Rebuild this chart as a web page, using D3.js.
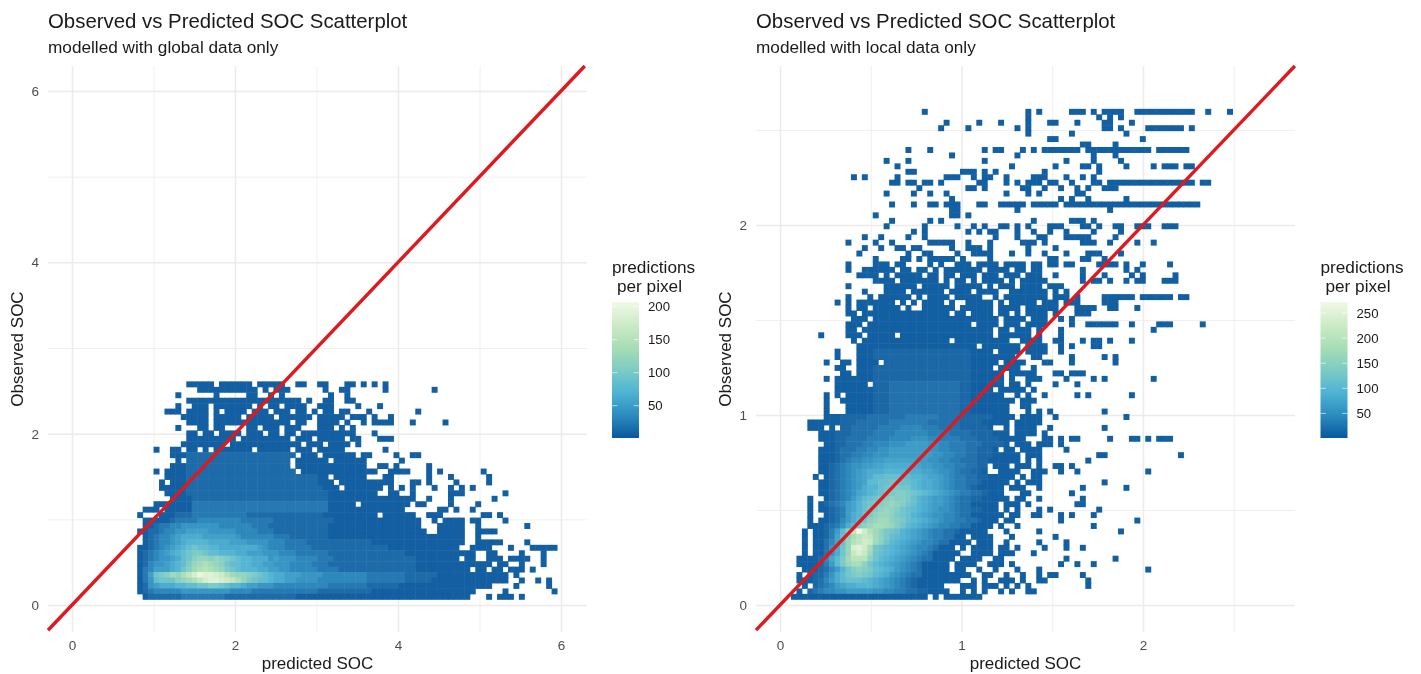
<!DOCTYPE html>
<html>
<head>
<meta charset="utf-8">
<script src="https://cdn.jsdelivr.net/npm/d3@7"></script>
<style>
html, body { margin: 0; background: #fff; }
svg { filter: blur(0.35px); }
svg text { font-family: "Liberation Sans", Arial, sans-serif; }
</style>
</head>
<body>
<div id="chart"></div>
<script>
// one string per row of bins, top row first
// "a-b" = run of bins at the lowest count, "a-b*3" = run at level 3, "a:0123" = levels from column a
// level n = n*10 predictions (base 36), "." = empty bin
const globalRows = [
  "9-13 15-20 22-26 29-30 33-34 38-39 41 43 45",
  "11-21 23 25-27 34 37-38 45 54",
  "7 14 20-21 24 26 35 38",
  "9-29 31 34-35 38-39",
  "7 10-12 14-20 22 24-25 27-30 33-35 40 44",
  "5-7 9-12 14 16-19 21-23 25-27 29-30 32 34-35 37-38 42 51",
  "8-12 14-18 20-24 26-31 33-37 39-41 43 46",
  "9-12 14-27 29-30 33-36 38 41 43-46 50 56",
  "7 11-12 14-15 20-21 23-25 27-29 33-35 37 39",
  "9-10 12-13 15-18 20-22 24-25 27-28 30-39 43",
  "9-17 19-27 29-31 33-37 39-40 44-46",
  "8-15 17-29 31-33 35-38 40",
  "3 6-7 9-10 12 14-20 22-27 29-31 33-37 45",
  "6-8 9-28*1 30-32 34-39 41-42 47 50-51",
  "7 9-27*1 29-34 36-41 48",
  "6-8 9-27*1 29-41 44-45 47 53",
  "3 5-8 9-28*1 30-43 46-49 53 55 63",
  "5-8 9-32*1 33-34 36-41 45-46 53 57 64",
  "4 6-8 9-32*1 33-35 37-45 46 50-51 53 58 64",
  "4-8 9-33*1 34-36 38-44 46 48 50 54 57 59 61",
  "5-8 9-34*1 35-43 46-47 50 57-59 67",
  "6-9 10-34*1 35-50 53 57 65",
  "3-9 10-34*2 35-39 41-48 49 51-52 57 62",
  "1-3 5-9 10-34*2 35-48 55-56 58 61",
  "0 4 5:00111222222222211111111111111000000 40-43 45-50 53-55 63-64 66",
  "1-4 5:0122223333333322222211111111111000 39-51 54 56-59 61-62 67",
  "1:001223344444443333332221111111111100 37-51 55-59 62 71",
  "0:00112334455554444433332221111111111 35-52 55-59 62-65",
  "1:0123345666655555543333332221111111 35-59 62",
  "1:01233456777766665554444333222211111 36-42*1 43-59 62-66 71",
  "0:001234567898877666666654333222221111 36-45*1 46-58 61-64 68 72-76",
  "0:0123456789aa98877766555444333222222111 38-48*1 49-61 64-65 70 74",
  "0:012344568 9:9bccbcba987766645444333322211 38-50*1 51-58 60-61 64-66 68-71 74",
  "0:0134456 7:78acdedcb98877665544433332221 36-50*1 51-64 66-67 70 74",
  "0:023555679bdefedca98777665544333332222 37-50*1 51-60 62-63 65-66 68-70 72",
  "0:0259abdcegikjjihfdccba98766555444433333333222 45:2222111111 55-67 69",
  "0:0248999bcdegijjihgeca98876655444433333333322222 45:222211111 54-67 70 73 75",
  "0:0145666778899aa987765544433333333332222222 42:111111 48-64 69 75",
  "0:0123333344444444433332222222222221111111111 43-61 67 76",
  "1:0111111222222221111111111111000000 35-60 64 66-68 70"
];

const localRows = [
  "24 43 45 51-53 55 57-60 63-73 76 80",
  "43 56 58 60",
  "28 34 38 43 47-48 52 57-58 62",
  "27 32 41 43 57-58 60 65-71 73",
  "43 51 61",
  "47-48 64",
  "53-54 59",
  "21 25 35 37-38 42 44 46-52 54-65 67-72",
  "29 41 55 59",
  "17 21 35 50 55 60",
  "19 40 48 53-54 56 61 66 68-70 72-73",
  "21-22 31-33 35 37 46 56",
  "11 13 19 28-30 33 35-36 39 44-46 50 53 55",
  "18-19 21-22 24-25 27 34-35 39 41 43-45 47-48 51 55-56 58-73 75-76",
  "23 32-33 35 42-43 46 49 52 54 57-59",
  "17 22 25 28 39 43 45 52-53",
  "29 49 51 54 61",
  "18 22 25-26 28-30 34-35 38-42 44-48 50-74",
  "29-30 41 58",
  "15 29-30 32",
  "18 25 27 44 51-53 55",
  "17 24 30 33 35 38-39 41 43 47-49 53-54 56 59-60 63-65 68-70",
  "22 24 32 34 36-37 41 44 47 50 55 60",
  "13 16 21 24 37 41 45-46 50-54 59",
  "10 15 18 25-29 32 36 42-44 46 53-55 58 63 66",
  "13 16 19-20 22-23 29 32-34 36 43 48",
  "12 21 24-25 30 33-36 40 43 46 50 54-56 60",
  "15 20-21 23 25-29 31 36 47-48 53-54 57",
  "10 15-17 19-20 25 27 30-32 34-37 39-42 44-45 47-48 50-51 56-59 61 64 69",
  "10 13-18 20-21 23-24 26 28-34 36-39 41-42 44-45 53 61 63",
  "12-15 17 19-23 25-26 28-29 31-33 35-37 39-41 43-45 48 53 57 62 64 70",
  "15-18 20-26 28 30-31 33 35-38 40 42-46 53 55-56 58 61 63-64 68-70",
  "10 17-22 24-28 30-34 36 38-40 42-45 47-49",
  "13 17-20 22-27 29-32 34-37 40-46 48 50",
  "10 14 16-21 23 25-28 30-34 37 39-46 48-50 52 57-62 64-69 71-72",
  "8 10 12-18 20 22 24-27 29 32-36 38 40-44 46-48 50-52 57-59",
  "10 12-13 15-19 21 24-29 31-36 38-41 43-48 52-55 58-59 63",
  "10-11 13-28 30-31 33-36 38-39 41 43-46 48 52-54",
  "11-13 15-37 39-42 44-46 49 51",
  "10-12 14-32 34-37 39-41 43-46 51 54-59 62 67-69 75",
  "10-11 13-36 38-39 41-43 45 49 66",
  "5 10-12 14-18 20-36 38-43 45 49",
  "11 13-28 30-39 42-45 48-49 53 55-56 58 62",
  "12-33 35-41 43-46 49 51 55-56",
  "8 12-14 15-32*1 33-36 38-41 43-46 49",
  "8 12-14 15-32*1 33-40 44-45 51 57 59",
  "6 9-10 12-15 17-32*1 33-37 39-42 46-47 51 59",
  "8-9 12-14 15-32*1 33-36 38-41 44",
  "9-10 12-14 15-32*1 33-38 40-44 48-49 51-53",
  "6 8-14 15-32*1 33-38 40 43-45 50 55 57 66",
  "8-13 15-32*1 18-30*2 33-38 40-41 43 48 52",
  "8-14 15-32*1 18-30*2 33-36 38-42 44",
  "6 8 10-14 15-32*1 18-30*2 33-38 41 43 46 52 54 62",
  "6 9-14 15-32*1 18-30*2 33-40 42-44",
  "6 10-14 15-32*1 18-30*2 33-39 42-43",
  "6 10-14 15-32*1 18-30*2 33-39 43 45 47 57",
  "6:00011111222222233333322221111110000 42-45 48 61",
  "3-6 7:0011122222233333332222221111000 38-39 41-45",
  "3-5 7 8:.1122222333344443332222111110 39 41-44 47 57",
  "5:0001112222333344444433332222111100 39 41-44 46",
  "5:00011222233334444555443333222111100 40-42 46-47 49 51-52 58 62-63 65 67-69",
  "5:.0011222334445556666554433322211110 41-43 45-47 49",
  "5:00012223344556666666554433322111 37 39-40 42-45 50",
  "5:00012233445556666666655443322111 37-41 43-45 56-57 71",
  "5:0001234455667777776655443322211 36-41 43 45 54",
  "4:.0012345566778888877665544332211 37-39 41-43 45 48-49 51",
  "5:0012345678889999888776554322110 38-41 44-46 49 52 65",
  "4:0.012345678aabbbaa99877654332211 36-40 42 44-45",
  "5:001234567aabbccbba988765433221 35-39 41 43-45 57",
  "5:00123456899bcddcca98876543321 34-38 40-42 45 53 61",
  "5:0012345789abcdeedcba98765433221 36-38 42-43 51",
  "3 5:.0123468abcdefeedb987665432211 35-39 41-42 45 53",
  "3 4:.01234679bcdefgfecb9876654322 33-37 39-41 43 52-53",
  "3 5:00123679bdefgfecba987655432211 35-37 39 41 45 47 56",
  "3 6:0123689bdfggfdcb98765544322 33-38 40-41 44-45 49 51 55",
  "3 5:0012468acfghhfedba987654433221 35-37 39-40 49 63",
  "3 4:0012358adfgiihgeca98765443322 33-36 38 41 55",
  "2 4:00136aflrnjhfdcb98765433221 31-35 39 45 60",
  "2 4:00137bfikmlhfdba9876543322 30-31 33-36 40 48",
  "2 4:00247bgjlnmhfca9876544322 29-32 34-36 39 45 50",
  "2 4:00258cgopnicba987654432 27-29 31 33-36 38-39 41 46 50 53",
  "2 4:00258cgmomhcba98765432 26-30 33-36 38-40 44",
  "1-2 3:00147adhkkkfca987654322 26-29 31-34 37-38 50 59",
  "1-2 3:00136adgiifca98765432 24-28 30-33 36-38 40 49 52 55",
  "2 3:0012469cefedba9865432 24-28 30-31 34 37 41 45 65",
  "1 3:011358acdedca98654322 24-32 35-36 39 42 45 47-48 53",
  "1-2 3:012468abbba987654321 23-30 33 35 38-40 42 45-46 54",
  "2 4:1234678899987654321 23-27 31-33 35-37 39 41 43 54",
  "1:0.12344556666655443322110000 31 33 35 38 40 43-44",
  "0-24 26 28-34"
];

const ramp = ["#08589E", "#2B8CBE", "#4EB3D3", "#7BCCC4", "#A8DDB5", "#CCEBC5", "#F0F9E8"];
const titleText = "Observed vs Predicted SOC Scatterplot";
const globalTicks = [0, 2, 4, 6];
const globalMinor = [1, 3, 5];
const localTicks = [0, 1, 2];
const localMinorX = [0.5, 1.5, 2.5];
const localMinorY = [0.5, 1.5, 2.5];

const svg = d3.select("#chart").append("svg")
    .attr("width", 1421)
    .attr("height", 674)
    .style("display", "block");

function parseRows(rows) {
    const cells = new Map();
    rows.forEach((line, row) => {
        line.split(" ").forEach(tok => {
            if (tok.includes(":")) {
                const [start, levels] = tok.split(":");
                levels.split("").forEach((ch, i) => {
                    if (ch !== ".") cells.set(row + "_" + (+start + i), { col: +start + i, row: row, level: parseInt(ch, 36) });
                });
            } else {
                const [span, lev] = tok.split("*");
                const [a, b] = span.split("-");
                for (let c = +a; c <= +(b === undefined ? a : b); c++) {
                    cells.set(row + "_" + c, { col: c, row: row, level: lev === undefined ? 0 : parseInt(lev, 36) });
                }
            }
        });
    });
    return Array.from(cells.values());
}

function drawPanel(p) {
    const x = d3.scaleLinear().domain(p.xDomain).range(p.xRange);
    const y = d3.scaleLinear().domain(p.yDomain).range(p.yRange);
    const g = svg.append("g");
    const w = p.xRange[1] - p.xRange[0];
    const h = p.yRange[0] - p.yRange[1];

    // grid
    g.append("g").attr("transform", `translate(0,${p.yRange[0]})`)
        .call(d3.axisBottom(x).tickValues(p.minorX).tickSize(-h).tickFormat(""))
        .call(s => s.selectAll("line").attr("stroke", "#eeeeee").attr("stroke-width", 0.9))
        .call(s => s.select(".domain").remove());
    g.append("g").attr("transform", `translate(${p.xRange[0]},0)`)
        .call(d3.axisLeft(y).tickValues(p.minorY).tickSize(-w).tickFormat(""))
        .call(s => s.selectAll("line").attr("stroke", "#eeeeee").attr("stroke-width", 0.9))
        .call(s => s.select(".domain").remove());
    const xAxis = g.append("g").attr("transform", `translate(0,${p.yRange[0]})`)
        .call(d3.axisBottom(x).tickValues(p.ticks).tickSize(-h).tickPadding(8).tickFormat(d3.format("d")));
    const yAxis = g.append("g").attr("transform", `translate(${p.xRange[0]},0)`)
        .call(d3.axisLeft(y).tickValues(p.ticks).tickSize(-w).tickPadding(9).tickFormat(d3.format("d")));
    [xAxis, yAxis].forEach(a => {
        a.select(".domain").remove();
        a.selectAll("line").attr("stroke", "#ebebeb").attr("stroke-width", 1.5);
        a.selectAll("text").attr("fill", "#4d4d4d").attr("font-size", 13.5)
            .style("font-family", '"Liberation Sans", Arial, sans-serif');
    });

    // bins
    const color = d3.scaleLinear()
        .domain(d3.range(ramp.length).map(i => p.cMin + (p.cMax - p.cMin) * i / (ramp.length - 1)))
        .range(ramp)
        .interpolate(d3.interpolateLab);
    const nRows = p.rows.length;
    const count = d => d.level === 0 ? 2 : d.level * 10;
    // group opacity lets the grid show faintly through the bins, +0.5 closes the seams
    g.append("g").attr("opacity", 0.96).selectAll("rect")
        .data(parseRows(p.rows))
        .join("rect")
        .attr("x", d => x(p.xStart + d.col * p.binW))
        .attr("y", d => y(p.yStart + (nRows - d.row) * p.binH))
        .attr("width", x(p.binW) - x(0) + 0.5)
        .attr("height", y(0) - y(p.binH) + 0.5)
        .attr("fill", d => color(count(d)));

    // y = x line
    const lo = Math.max(p.xDomain[0], p.yDomain[0]);
    const hi = Math.min(p.xDomain[1], p.yDomain[1]);
    g.append("path")
        .attr("d", d3.line().x(d => x(d)).y(d => y(d))([lo, hi]))
        .attr("stroke", "#dc1a1f")
        .attr("stroke-width", 3.4)
        .attr("fill", "none");

    // titles
    g.append("text").attr("x", p.xRange[0]).attr("y", 28).attr("font-size", 20.4).attr("fill", "#1a1a1a").text(titleText);
    g.append("text").attr("x", p.xRange[0]).attr("y", 53).attr("font-size", 17.2).attr("fill", "#1a1a1a").text(p.subtitle);
    g.append("text").attr("x", (p.xRange[0] + p.xRange[1]) / 2).attr("y", 669).attr("text-anchor", "middle")
        .attr("font-size", 17).attr("fill", "#1a1a1a").text("predicted SOC");
    g.append("text").attr("transform", `translate(${p.xRange[0] - 25},${(p.yRange[0] + p.yRange[1]) / 2}) rotate(-90)`)
        .attr("text-anchor", "middle").attr("font-size", 17).attr("fill", "#1a1a1a").text("Observed SOC");

    // legend
    const barX = p.legendX, barW = 27, barTop = 302, barBottom = 438;
    const legendY = d3.scaleLinear().domain([p.cMin, p.cMax]).range([barBottom, barTop]);
    const defs = svg.append("defs").append("linearGradient").attr("id", p.id)
        .attr("x1", 0).attr("y1", 1).attr("x2", 0).attr("y2", 0);
    ramp.forEach((c, i) => {
        defs.append("stop").attr("offset", i / (ramp.length - 1)).attr("stop-color", c);
    });
    const leg = g.append("g");
    leg.append("rect").attr("x", barX).attr("y", barTop).attr("width", barW).attr("height", barBottom - barTop)
        .attr("fill", `url(#${p.id})`);
    const legAxis = leg.append("g").attr("transform", `translate(${barX + barW},0)`)
        .call(d3.axisRight(legendY).tickValues(p.legendTicks).tickSize(0).tickPadding(9));
    legAxis.select(".domain").remove();
    legAxis.selectAll("text").attr("font-size", 13.2).attr("fill", "#1a1a1a")
        .style("font-family", '"Liberation Sans", Arial, sans-serif');
    p.legendTicks.forEach(t => {
        leg.append("line").attr("x1", barX).attr("x2", barX + 5.4).attr("y1", legendY(t)).attr("y2", legendY(t))
            .attr("stroke", "#fff").attr("stroke-width", 0.6);
        leg.append("line").attr("x1", barX + barW - 5.4).attr("x2", barX + barW).attr("y1", legendY(t)).attr("y2", legendY(t))
            .attr("stroke", "#fff").attr("stroke-width", 0.6);
    });
    leg.append("text").attr("x", barX).attr("y", 273).attr("font-size", 17.2).attr("fill", "#1a1a1a").text("predictions");
    leg.append("text").attr("x", barX + 5).attr("y", 292).attr("font-size", 17.2).attr("fill", "#1a1a1a").text("per pixel");
}

drawPanel({
    id: "legendGlobal",
    rows: globalRows,
    xDomain: [-0.2945, 6.319], xRange: [48, 587],
    yDomain: [-0.315, 6.292], yRange: [632, 66],
    ticks: globalTicks, minorX: globalMinor, minorY: globalMinor,
    xStart: 0.80, binW: 0.0669, yStart: 0.0666, binH: 0.0636,
    cMin: 1, cMax: 207, legendX: 612, legendTicks: [50, 100, 150, 200],
    subtitle: "modelled with global data only"
});

drawPanel({
    id: "legendLocal",
    rows: localRows,
    xDomain: [-0.1322, 2.8375], xRange: [756, 1295],
    yDomain: [-0.1421, 2.8368], yRange: [632, 66],
    ticks: localTicks, minorX: localMinorX, minorY: localMinorY,
    xStart: 0.0606, binW: 0.03003, yStart: 0.03, binH: 0.02868,
    cMin: 1, cMax: 272, legendX: 1320.5, legendTicks: [50, 100, 150, 200, 250],
    subtitle: "modelled with local data only"
});
</script>
</body>
</html>
